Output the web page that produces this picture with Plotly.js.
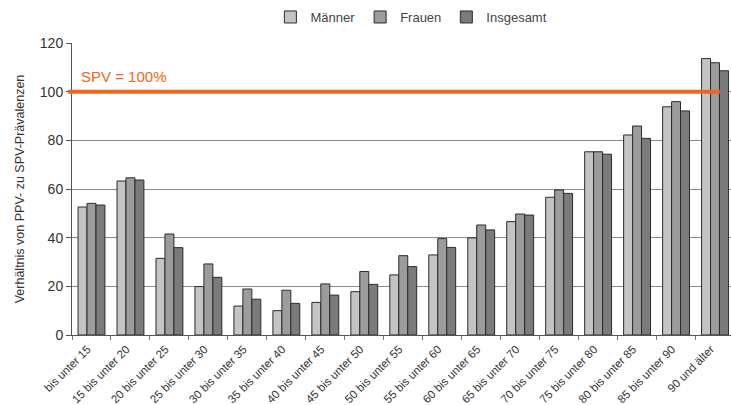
<!DOCTYPE html>
<html><head><meta charset="utf-8">
<script src="https://cdn.plot.ly/plotly-3.0.1.min.js"></script>
<style>html,body{margin:0;padding:0;background:#fff}#chart{width:731px;height:405px}</style>
</head><body><div id="chart"></div>
<script>
const categories = ["bis unter 15","15 bis unter 20","20 bis unter 25","25 bis unter 30","30 bis unter 35","35 bis unter 40","40 bis unter 45","45 bis unter 50","50 bis unter 55","55 bis unter 60","60 bis unter 65","65 bis unter 70","70 bis unter 75","75 bis unter 80","80 bis unter 85","85 bis unter 90","90 und älter"];
const maenner   = [52.6, 63.3, 31.5, 19.9, 11.9, 10.0, 13.4, 17.8, 24.7, 32.9, 39.9, 46.6, 56.6, 75.3, 82.2, 93.8, 113.6];
const frauen    = [54.1, 64.6, 41.5, 29.2, 18.9, 18.4, 21.0, 26.1, 32.6, 39.6, 45.2, 49.7, 59.6, 75.3, 85.9, 95.9, 111.9];
const insgesamt = [53.4, 63.7, 35.9, 23.7, 14.7, 13.0, 16.4, 20.8, 28.1, 36.0, 43.2, 49.3, 58.2, 74.3, 80.8, 92.1, 108.6];
const refValue = 100;
const refLabel = "SPV = 100%";

const font = "Liberation Sans, Arial, sans-serif";
const line = {color: "#2b2b2b", width: 1};
const traces = [
  {type: "bar", name: "Männer", x: categories, y: maenner, marker: {color: "#c4c4c4", line: line}},
  {type: "bar", name: "Frauen", x: categories, y: frauen, marker: {color: "#9c9c9c", line: line}},
  {type: "bar", name: "Insgesamt", x: categories, y: insgesamt, marker: {color: "#7b7b7b", line: line}}
];
const layout = {
  width: 731, height: 405,
  margin: {l: 72, r: 0, t: 43, b: 70},
  paper_bgcolor: "#fff", plot_bgcolor: "#fff",
  font: {family: font, color: "#333", size: 13},
  barmode: "group", bargap: 0.31, bargroupgap: 0,
  showlegend: true,
  legend: {orientation: "h", x: 0.515, xanchor: "center", y: 0.995, yanchor: "top", yref: "container", font: {size: 13, color: "#444"}, itemwidth: 30, traceorder: "normal", tracegroupgap: 0},
  xaxis: {
    type: "category", range: [-0.5, 16.41],
    tickangle: -45, tickfont: {size: 11.5, color: "#333"},
    ticklabelshift: -4, ticklabelstandoff: 2,
    showline: true, linecolor: "#555", linewidth: 1,
    ticks: "outside", tickson: "boundaries", ticklen: 4, tickcolor: "#777",
    showgrid: false, fixedrange: true
  },
  yaxis: {
    range: [0, 120], dtick: 20, tick0: 0,
    showline: true, linecolor: "#555", linewidth: 1,
    ticks: "outside", ticklen: 5, tickcolor: "#555",
    tickfont: {size: 14, color: "#333"},
    showgrid: true, gridcolor: "#8a8a8a", gridwidth: 1,
    zeroline: false,
    title: {text: "Verhältnis von PPV- zu SPV-Prävalenzen", font: {size: 12.5, color: "#333"}, standoff: 12}
  },
  shapes: [{type: "line", xref: "paper", yref: "y", x0: -0.006, x1: 0.983, y0: refValue, y1: refValue, line: {color: "#f06522", width: 4}, layer: "above"}],
  annotations: [{xref: "paper", yref: "y", x: 0.011, y: refValue + 2, xanchor: "left", yanchor: "bottom", text: refLabel, showarrow: false, font: {size: 15, color: "#f06522", family: font}}]
};
Plotly.newPlot("chart", traces, layout, {displayModeBar: false, staticPlot: true});
</script></body></html>
